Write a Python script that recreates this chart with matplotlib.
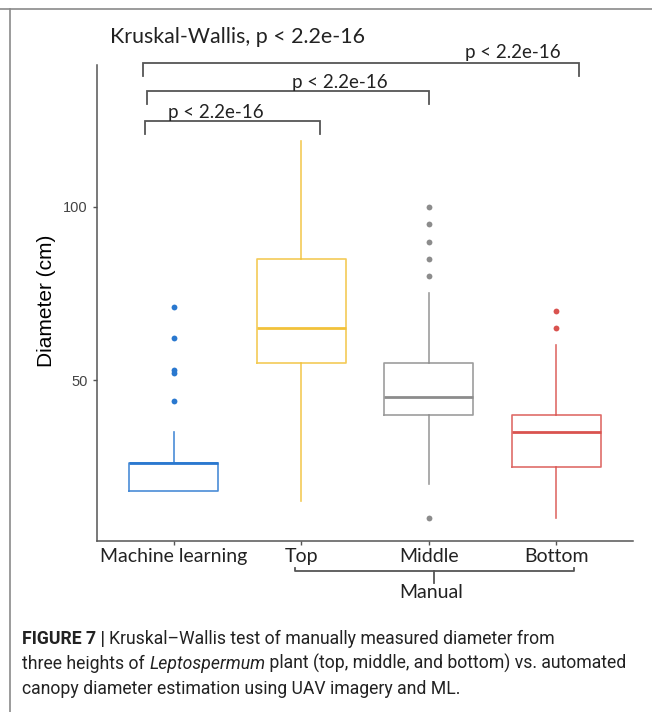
import matplotlib
matplotlib.use("Agg")
import matplotlib.pyplot as plt
from matplotlib.lines import Line2D

# box statistics per group (cm)
groups = ["Machine learning", "Top", "Middle", "Bottom"]
whislo = [18, 15, 20, 10]
q1 = [18, 55, 40, 25]
med = [26, 65, 45, 35]
q3 = [26, 85, 55, 40]
whishi = [35, 119, 75, 60]
fliers = [[44, 52, 53, 62, 71], [], [10, 80, 85, 90, 95, 100], [65, 70]]
yticks = [50, 100]
pval = "p < 2.2e-16"
kw_label = "Kruskal-Wallis, p < 2.2e-16"

colors = ["#2a78cf", "#f2c23a", "#8c8c8c", "#d9534f"]
line_col = "#555555"
W, H = 652, 712

fig = plt.figure(figsize=(W / 100, H / 100), dpi=100)
ax = fig.add_axes([97 / W, 1 - 541 / H, (633 - 97) / W, (541 - 65) / H])

stats = [dict(label=g, whislo=a, q1=b, med=c, q3=d, whishi=e, fliers=f)
         for g, a, b, c, d, e, f in zip(groups, whislo, q1, med, q3, whishi, fliers)]
art = ax.bxp(stats, positions=range(1, 5), widths=0.7, showcaps=False,
             boxprops=dict(lw=1.2), whiskerprops=dict(lw=1.2),
             medianprops=dict(lw=2.0),
             flierprops=dict(marker="o", markersize=4.2, markeredgewidth=0,
                             linestyle="none"))
for i, c in enumerate(colors):
    art["boxes"][i].set_color(c)
    art["boxes"][i].set_alpha(0.85)
    art["medians"][i].set_color(c)
    for w in art["whiskers"][2 * i:2 * i + 2]:
        w.set_color(c)
        w.set_alpha(0.85)
    art["fliers"][i].set_markerfacecolor(c)

ax.set_xlim(0.4, 4.6)
ax.set_ylim(3.5, 141)
for s in ["top", "right"]:
    ax.spines[s].set_visible(False)
for s in ["left", "bottom"]:
    ax.spines[s].set_color(line_col)
    ax.spines[s].set_linewidth(1.1)

ax.set_yticks(yticks)
ax.set_yticklabels([str(v) for v in yticks], fontsize=10.5,
                   family="Liberation Sans", color="#444444")
ax.set_xticks(range(1, 5))
ax.set_xticklabels(groups, fontsize=14, family="Lato", color="#222222")
ax.tick_params(axis="both", length=3, color=line_col, width=1)
ax.tick_params(axis="x", pad=2)
ax.set_ylabel("Diameter (cm)", fontsize=15, family="Liberation Sans")
ax.yaxis.set_label_coords(-0.076, 0.504)

# pairwise comparison brackets above the boxes
brackets = [
    (0.78, 2.15, 124.9, 121.1, 1.33, 125.6),
    (0.79, 3.00, 133.5, 129.8, 2.30, 134.3),
    (0.76, 4.18, 141.6, 137.9, 3.66, 143.0),
]
for x0, x1, y, yd, tx, ty in brackets:
    ax.plot([x0, x0, x1, x1], [yd, y, y, yd], color=line_col, lw=1.3,
            clip_on=False, solid_joinstyle="miter")
    ax.text(tx, ty, pval, ha="center", va="baseline", fontsize=13.5,
            family="Lato", color="#222222", clip_on=False)
ax.text(0.5, 147.4, kw_label, ha="left", va="baseline", fontsize=15.4,
        family="Lato", color="#222222", clip_on=False)

# grouping bracket for the manual measurements
ax.plot([1.95, 1.95, 4.135, 4.135], [-4.3, -5.2, -5.2, -4.3], color=line_col,
        lw=1.3, clip_on=False)
ax.plot([3.04, 3.04], [-5.2, -8.7], color=line_col, lw=1.3, clip_on=False)
ax.text(3.02, -13.0, "Manual", ha="center", va="baseline", fontsize=14,
        family="Lato", color="#222222", clip_on=False)

# frame lines
fig.add_artist(Line2D([0, 1], [1 - 9 / H, 1 - 9 / H], color="#8a8a8a", lw=1.2,
                      transform=fig.transFigure))
fig.add_artist(Line2D([10 / W, 10 / W], [0, 1 - 9 / H], color="#8a8a8a", lw=1.2,
                      transform=fig.transFigure))

# caption, written as runs of differently styled text
cap_font = "Roboto"
caption = [
    (644, [("FIGURE 7 | ", dict(weight="bold")),
           ("Kruskal\u2013Wallis test of manually measured diameter from", {})]),
    (669, [("three heights of ", {}), ("Leptospermum", dict(style="italic")),
           (" plant (top, middle, and bottom) vs. automated", {})]),
    (694, [("canopy diameter estimation using UAV imagery and ML.", {})]),
]
renderer = fig.canvas.get_renderer()


def put_runs(yb, parts, size):
    x = 22
    placed = []
    for txt, kw in parts:
        t = fig.text(x / W, 1 - yb / H, txt, fontsize=size, family=cap_font,
                     ha="left", va="baseline", color="#222222", **kw)
        x += t.get_window_extent(renderer).width
        placed.append(t)
    return x - 22, placed


# size the caption so its longest line spans the text block
width, tmp = put_runs(669, caption[1][1], 12)
for t in tmp:
    t.remove()
cap_size = 12 * 603 / width
for yb, parts in caption:
    put_runs(yb, parts, cap_size)

fig.savefig("out.png", dpi=100)
